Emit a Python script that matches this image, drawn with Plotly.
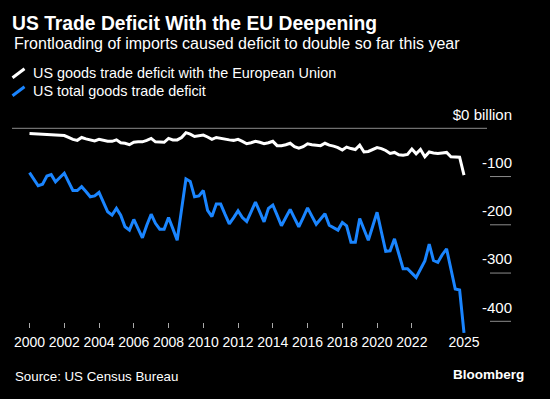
import pandas as pd
import plotly.graph_objects as go

# ---------------- data (billion USD, quarterly 2000 Q1 .. 2025 Q1) ----------------
quarters = pd.date_range("2000-01-01", "2025-01-01", freq="QS")

eu_deficit = [
    -11, -11.5, -12, -12, -12, -13, -13.5, -14, -15, -19,
    -23, -25, -19, -22, -24, -26, -23, -25, -27, -27,
    -24, -30, -31, -34, -29, -28, -28, -25, -21, -28,
    -29, -29, -21, -24, -24, -19, -9, -12, -17, -16,
    -14, -18, -23, -19, -21, -23, -24, -25, -23, -27,
    -32, -30, -27, -29, -32, -30, -27, -36, -36, -34,
    -31, -38, -41, -38, -32, -34, -35, -36, -31, -35,
    -37, -40, -45, -39, -42, -44, -35, -49, -48, -44,
    -40, -42, -46, -52, -50, -55, -56, -54, -43, -53,
    -44, -59, -49, -51, -52, -51, -50, -59, -60, -60,
    -97,
]

total_deficit = [
    -92, -105, -119, -116, -99, -96, -111, -102, -93, -111,
    -129, -129, -121, -131, -142, -140, -133, -153, -173, -180,
    -166, -180, -204, -211, -189, -208, -227, -201, -178, -197,
    -209, -209, -185, -208, -232, -168, -105, -110, -142, -140,
    -129, -170, -183, -157, -157, -178, -198, -185, -171, -185,
    -193, -173, -153, -173, -194, -166, -159, -180, -202, -185,
    -168, -186, -204, -185, -165, -182, -199, -188, -177, -201,
    -206, -211, -195, -202, -236, -236, -187, -210, -232, -203,
    -174, -215, -255, -254, -229, -260, -291, -291, -300, -309,
    -292, -275, -240, -274, -278, -262, -250, -292, -333, -335,
    -424,
]

series_names = ["US goods trade deficit with the European Union",
                "US total goods trade deficit"]
series_colors = ["#ffffff", "#1a85ff"]

x_tick_years = [2000, 2002, 2004, 2006, 2008, 2010, 2012, 2014, 2016, 2018, 2020, 2022]
x_label_years = x_tick_years + [2025]
y_tick_values = [0, -100, -200, -300, -400]
y_tick_labels = ["$0 billion", "-100", "-200", "-300", "-400"]

title_text = "US Trade Deficit With the EU Deepening"
subtitle_text = "Frontloading of imports caused deficit to double so far this year"
source_text = "Source: US Census Bureau"
brand_text = "Bloomberg"

# ---------------- geometry helpers (pixel -> paper, margins are zero) ----------------
W, H = 550, 399


def px(x):
    return x / W


def py(y):
    return 1 - y / H


FONT = "Liberation Sans, Arial, sans-serif"

# x range so that 2000-01-01 sits at 29.5px and 2025-01-01 at 464px, plot spans 12..515px
t_a = pd.Timestamp("2000-01-01")
t_b = pd.Timestamp("2025-01-01")
span = t_b - t_a
x_left, x_right = 12, 515
t_start = t_a - span * ((29.5 - x_left) / (464 - 29.5))
t_end = t_a + span * ((x_right - 29.5) / (464 - 29.5))

# y range: value 0 at 128.3px, 48.25px per 100; plot spans 100..345px
y_top_px, y_bot_px = 100, 345
k = 0.4825
y_max = (128.3 - y_top_px) / k
y_min = (128.3 - y_bot_px) / k

fig = go.Figure()
for vals, name, col in zip([eu_deficit, total_deficit], series_names, series_colors):
    fig.add_trace(go.Scatter(
        x=quarters, y=vals, mode="lines", name=name,
        line=dict(color=col, width=3), showlegend=False,
        hovertemplate="%{x|%Y Q%q}: %{y}<extra></extra>",
    ))

axis_pos = py(321.7)

fig.update_layout(
    width=W, height=H,
    margin=dict(l=0, r=0, t=0, b=0),
    paper_bgcolor="#000000", plot_bgcolor="#000000",
    font=dict(family=FONT, color="#ffffff", size=14),
    title=dict(text="<b>" + title_text + "</b>", x=px(12), xanchor="left",
               y=py(23.5), yanchor="middle", xref="paper", yref="paper",
               font=dict(size=19.3, color="#ffffff", family=FONT)),
    xaxis=dict(
        type="date", range=[t_start, t_end], domain=[px(x_left), px(x_right)],
        anchor="free", position=axis_pos,
        tickvals=[pd.Timestamp(f"{y}-01-01") for y in x_label_years],
        ticktext=[str(y) for y in x_label_years],
        ticks="", ticklabelstandoff=10,
        minor=dict(tickvals=[pd.Timestamp(f"{y}-01-01") for y in x_tick_years],
                   ticks="outside", ticklen=5, tickwidth=1, tickcolor="#aaaaaa",
                   showgrid=False),
        showgrid=False, zeroline=False, showline=False,
        tickfont=dict(size=14, color="#ffffff"), automargin=False,
        fixedrange=True,
    ),
    yaxis=dict(
        range=[y_min, y_max], domain=[py(y_bot_px), py(y_top_px)],
        anchor="free", position=px(512), side="left",
        tickvals=y_tick_values, ticktext=y_tick_labels,
        ticks="", ticklabelposition="outside", ticklabelshift=-14,
        showgrid=False, zeroline=False, showline=False,
        tickfont=dict(size=15, color="#ffffff"), automargin=False,
        fixedrange=True,
    ),
    showlegend=False,
)

shapes = []
# zero line across the plot
shapes.append(dict(type="line", xref="paper", yref="y", x0=px(12), x1=px(487),
                   y0=0, y1=0, line=dict(color="#8c8c8c", width=1)))
# short grid stubs under right-hand labels
for v in y_tick_values[1:]:
    shapes.append(dict(type="line", xref="paper", yref="y", x0=px(490), x1=px(511),
                       y0=v, y1=v, line=dict(color="#8c8c8c", width=1)))
# legend swatches (slanted strokes)
for row_y, col in zip([73.3, 91.3], series_colors):
    shapes.append(dict(type="line", xref="paper", yref="paper",
                       x0=px(12.5), y0=py(row_y + 4.5), x1=px(24.5), y1=py(row_y - 4.5),
                       line=dict(color=col, width=3)))
fig.update_layout(shapes=shapes)

annotations = [
    dict(text=subtitle_text, x=px(12), y=py(43.5), xanchor="left", yanchor="middle",
         font=dict(size=16, color="#ffffff")),
    dict(text=series_names[0], x=px(30.5), y=py(72.7), xanchor="left", yanchor="middle",
         font=dict(size=14.4, color="#ffffff")),
    dict(text=series_names[1], x=px(30.5), y=py(90.7), xanchor="left", yanchor="middle",
         font=dict(size=14.4, color="#ffffff")),
    dict(text=source_text, x=px(12.5), y=py(376), xanchor="left", yanchor="middle",
         font=dict(size=13.3, color="#ffffff")),
    dict(text="<b>" + brand_text + "</b>", x=px(526), y=py(374.5), xanchor="right",
         yanchor="middle", font=dict(size=13.5, color="#ffffff")),
]
for a in annotations:
    a.update(xref="paper", yref="paper", showarrow=False)
fig.update_layout(annotations=annotations)

fig.write_html("out.html", include_plotlyjs=True,
               config={"displayModeBar": False},
               post_script="document.body.style.margin='0';document.body.style.background='#000';")
